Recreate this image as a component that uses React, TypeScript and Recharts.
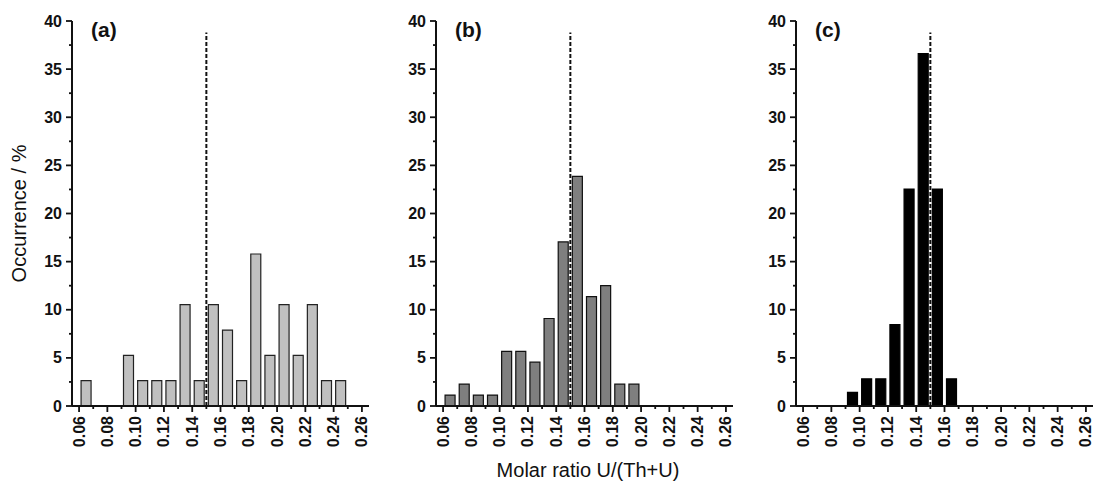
import { Bar, ComposedChart, ReferenceLine, XAxis, YAxis } from 'recharts';

// bin centres (U/(Th+U)) and occurrence (%) for each panel
const binsA = [0.065, 0.075, 0.085, 0.095, 0.105, 0.115, 0.125, 0.135, 0.145, 0.155, 0.165, 0.175, 0.185, 0.195, 0.205, 0.215, 0.225, 0.235, 0.245];
const occurrenceA = [2.63, 0, 0, 5.26, 2.63, 2.63, 2.63, 10.53, 2.63, 10.53, 7.89, 2.63, 15.79, 5.26, 10.53, 5.26, 10.53, 2.63, 2.63];

const binsB = [0.065, 0.075, 0.085, 0.095, 0.105, 0.115, 0.125, 0.135, 0.145, 0.155, 0.165, 0.175, 0.185, 0.195];
const occurrenceB = [1.14, 2.27, 1.14, 1.14, 5.68, 5.68, 4.55, 9.09, 17.05, 23.86, 11.36, 12.5, 2.27, 2.27];

const binsC = [0.095, 0.105, 0.115, 0.125, 0.135, 0.145, 0.155, 0.165];
const occurrenceC = [1.41, 2.82, 2.82, 8.45, 22.54, 36.62, 22.54, 2.82];

const panelLabels = ['(a)', '(b)', '(c)'];
const meanRatio = 0.15;
const meanLineTop = 38.8;

const xMajorTicks = [0.06, 0.08, 0.1, 0.12, 0.14, 0.16, 0.18, 0.2, 0.22, 0.24, 0.26];
const xMinorTicks = [0.07, 0.09, 0.11, 0.13, 0.15, 0.17, 0.19, 0.21, 0.23, 0.25];
const yMajorTicks = [0, 5, 10, 15, 20, 25, 30, 35, 40];
const yMinorTicks = [2.5, 7.5, 12.5, 17.5, 22.5, 27.5, 32.5, 37.5];

const FONT = '"Liberation Sans", Arial, Helvetica, sans-serif';
const INK = '#111';

const xTicks = [...xMajorTicks, ...xMinorTicks].sort((a, b) => a - b);
const yTicks = [...yMajorTicks, ...yMinorTicks].sort((a, b) => a - b);

const panels = [
  { bins: binsA, values: occurrenceA, fill: '#c0c0c0', stroke: '#222', left: 72 },
  { bins: binsB, values: occurrenceB, fill: '#7f7f7f', stroke: '#111', left: 436 },
  { bins: binsC, values: occurrenceC, fill: '#000000', stroke: '#000000', left: 796 },
];

function XTick(props: any) {
  const { x, y, payload } = props;
  const major = xMajorTicks.some((t) => Math.abs(t - payload.value) < 1e-9);
  return (
    <g>
      <line x1={x} y1={y} x2={x} y2={y + (major ? 6 : 3)} stroke={INK} strokeWidth={1.8} />
      {major ? (
        <text
          x={x}
          y={y + 10}
          transform={`rotate(-90, ${x}, ${y + 10})`}
          textAnchor="end"
          dominantBaseline="central"
          fontFamily={FONT}
          fontWeight="bold"
          fontSize={16}
          fill={INK}
        >
          {payload.value.toFixed(2)}
        </text>
      ) : null}
    </g>
  );
}

function YTick(props: any) {
  const { x, y, payload } = props;
  const major = yMajorTicks.includes(payload.value);
  return (
    <g>
      <line x1={x - (major ? 6 : 3)} y1={y} x2={x} y2={y} stroke={INK} strokeWidth={1.8} />
      {major ? (
        <text
          x={x - 10}
          y={y}
          textAnchor="end"
          dominantBaseline="central"
          fontFamily={FONT}
          fontWeight="bold"
          fontSize={16}
          fill={INK}
        >
          {payload.value}
        </text>
      ) : null}
    </g>
  );
}

function Panel({ bins, values, fill, stroke, left }: (typeof panels)[number]) {
  const data = bins.map((bin, i) => ({ bin, value: values[i] }));
  return (
    <div style={{ position: 'absolute', left: left - 60, top: 0 }}>
      <ComposedChart width={360} height={485} data={data} margin={{ top: 21, right: 3, bottom: 19, left: 20 }}>
        <XAxis
          dataKey="bin"
          type="number"
          domain={[0.055, 0.265]}
          allowDataOverflow
          ticks={xTicks}
          interval={0}
          tickSize={0}
          tickMargin={0}
          tickLine={false}
          height={60}
          axisLine={{ stroke: INK, strokeWidth: 2 }}
          tick={(p: any) => <XTick {...p} />}
        />
        <YAxis
          type="number"
          domain={[0, 40]}
          allowDataOverflow
          ticks={yTicks}
          interval={0}
          tickSize={0}
          tickMargin={0}
          tickLine={false}
          width={40}
          axisLine={{ stroke: INK, strokeWidth: 2 }}
          tick={(p: any) => <YTick {...p} />}
        />
        <Bar dataKey="value" barSize={10} fill={fill} stroke={stroke} strokeWidth={1.2} isAnimationActive={false} />
        <ReferenceLine
          segment={[
            { x: meanRatio, y: 0 },
            { x: meanRatio, y: meanLineTop },
          ]}
          stroke={INK}
          strokeWidth={2}
          strokeDasharray="4 2"
        />
      </ComposedChart>
    </div>
  );
}

export default function App() {
  return (
    <div style={{ position: 'fixed', left: 0, top: 0, width: 1093, height: 485, background: '#fff', overflow: 'hidden' }}>
      {panels.map((p, i) => (
        <Panel key={i} {...p} />
      ))}
      <svg width={1093} height={485} style={{ position: 'absolute', left: 0, top: 0, pointerEvents: 'none' }}>
        {panels.map((p, i) => (
          <text key={i} x={p.left + 19} y={36.5} fontFamily={FONT} fontWeight="bold" fontSize={21} fill={INK}>
            {panelLabels[i]}
          </text>
        ))}
        <text
          x={26}
          y={213.5}
          transform="rotate(-90, 26, 213.5)"
          textAnchor="middle"
          fontFamily={FONT}
          fontSize={20}
          fill={INK}
        >
          Occurrence / %
        </text>
        <text x={588} y={477} textAnchor="middle" fontFamily={FONT} fontSize={20} fill={INK}>
          Molar ratio U/(Th+U)
        </text>
      </svg>
    </div>
  );
}
